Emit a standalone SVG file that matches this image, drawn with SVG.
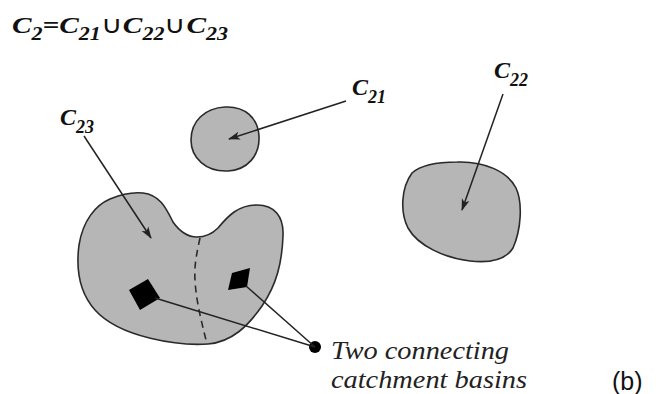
<svg xmlns="http://www.w3.org/2000/svg" width="663" height="394" viewBox="0 0 663 394">
<style>
.blob{fill:#b6b6b6;stroke:#2a2a2a;stroke-width:1.6}
.lbl{font-family:"Liberation Serif",serif;font-weight:bold;font-style:italic;fill:#111}
.conn{stroke:#222;stroke-width:1.5;fill:none}
.note{font-family:"Liberation Serif",serif;font-style:italic;fill:#222;font-size:25px}
</style>
<defs>
<marker id="ah" viewBox="0 0 12 10" refX="11" refY="5" markerWidth="13" markerHeight="10" markerUnits="userSpaceOnUse" orient="auto">
<path d="M0,1 L12,5 L0,9 L3,5 Z" fill="#222"/>
</marker>
</defs>
<rect width="663" height="394" fill="#fff"/>
<text class="lbl" x="12" y="33" font-size="24" textLength="216" lengthAdjust="spacingAndGlyphs">C<tspan font-size="18" dy="7">2</tspan><tspan dy="-7">=C</tspan><tspan font-size="18" dy="7">21</tspan><tspan dy="-7" font-style="normal" font-weight="normal">∪</tspan><tspan dy="0">C</tspan><tspan font-size="18" dy="7">22</tspan><tspan dy="-7" font-style="normal" font-weight="normal">∪</tspan><tspan>C</tspan><tspan font-size="18" dy="7">23</tspan></text>
<g id="C21">
<path class="blob" d="M225,107 C245,106 258,118 259,136 C260,156 247,170 228,171 C206,172 191,158 191,140 C191,121 205,108 225,107 Z"/>
<text class="lbl" x="352" y="95" font-size="24">C<tspan font-size="18" dy="8">21</tspan></text>
</g>
<g id="C22">
<path class="blob" d="M457,162 C485,161 508,172 516,188 C523,203 521,230 513,248 C505,261 488,263 470,261 C445,258 418,246 408,228 C400,212 401,188 412,173 C422,164 440,162 457,162 Z"/>
<text class="lbl" x="494" y="78" font-size="24">C<tspan font-size="18" dy="8">22</tspan></text>
</g>
<g id="C23">
<path class="blob" d="M197,237 C206,237 212,234 218,228 C228,216 238,205 257,205 C274,205 284,216 283,236 C282,262 277,284 262,306 C248,326 232,342 208,344 C180,346 120,338 95,310 C79,292 76,268 79,245 C83,220 96,205 110,199 C122,194 134,192 143,193 C160,195 166,208 173,222 C180,232 188,237 197,237 Z"/>
<path d="M200,238 C197,252 194,265 195,280 C196,300 201,320 207,344" fill="none" stroke="#2a2a2a" stroke-width="1.6" stroke-dasharray="7,5"/>
<text class="lbl" x="60" y="125" font-size="24">C<tspan font-size="18" dy="8">23</tspan></text>
</g>
<g id="basins">
<path d="M148,279 L160,298 L140,310 L129,290 Z" fill="#000"/>
<path d="M232,273 L250,268 L247,287 L228,290 Z" fill="#000"/>
<circle cx="315" cy="347" r="6" fill="#000"/>
<text class="note" x="331" y="359" textLength="178" lengthAdjust="spacingAndGlyphs">Two connecting</text>
<text class="note" x="331" y="388" textLength="196" lengthAdjust="spacingAndGlyphs">catchment basins</text>
</g>
<text x="612" y="390" font-family="'Liberation Sans',sans-serif" font-size="25" fill="#111">(b)</text>
<g id="connectors">
<line class="conn" x1="346" y1="101" x2="229" y2="139" marker-end="url(#ah)"/>
<line class="conn" x1="84" y1="136" x2="151" y2="238" marker-end="url(#ah)"/>
<line class="conn" x1="503" y1="94" x2="462" y2="210" marker-end="url(#ah)"/>
<line class="conn" x1="155" y1="298" x2="315" y2="347"/>
<line class="conn" x1="246" y1="286" x2="315" y2="347"/>
</g>
</svg>
